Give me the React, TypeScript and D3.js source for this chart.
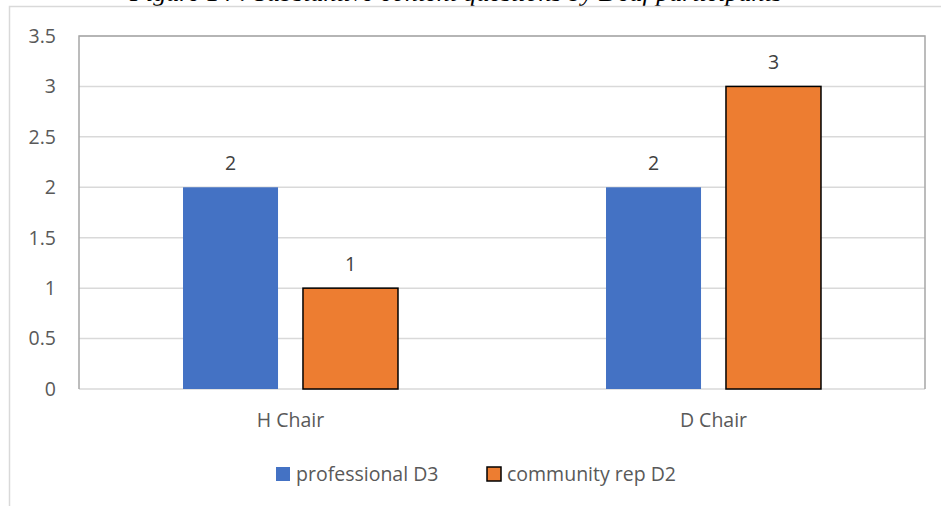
import React from 'react';
import * as d3 from 'd3';

const categories = ['H Chair', 'D Chair'];
const seriesNames = ['professional D3', 'community rep D2'];
const professional = [2, 2];
const community = [1, 3];
const yTicks = [0, 0.5, 1, 1.5, 2, 2.5, 3, 3.5];
const title = 'Figure 14 : Substantive content questions by Deaf participants';

const colors = ['#4472c4', '#ed7d31'];
const font = '"Open Sans", "Noto Sans", sans-serif';
const fs = 19.5;

const App = () => {
  const width = 941;
  const height = 506;
  const plot = { left: 79, right: 925, top: 36, bottom: 389 };

  const x0 = d3.scaleBand().domain(categories).range([plot.left, plot.right]);
  const x1 = d3
    .scaleBand()
    .domain(seriesNames)
    .range([0, x0.bandwidth()])
    .paddingInner(0.208)
    .paddingOuter(0.867);
  const y = d3.scaleLinear().domain([0, 3.5]).range([plot.bottom, plot.top]);

  const values = [professional, community];

  return (
    <svg
      width={width}
      height={height}
      style={{ position: 'absolute', left: 0, top: 0, background: '#fff' }}
    >
      {/* figure caption, cut off at the top as in the source */}
      <text
        x={456}
        y={1}
        textAnchor="middle"
        fontFamily='"Liberation Serif", "Times New Roman", serif'
        fontStyle="italic"
        fontSize={26}
        fill="#000"
      >
        {title}
      </text>

      {/* chart area border */}
      <path d={`M9.5,${height} V6.5 H${width}`} fill="none" stroke="#d9d9d9" strokeWidth={1.5} />

      {/* gridlines */}
      {yTicks.map((t) => (
        <line
          key={t}
          x1={plot.left}
          x2={plot.right}
          y1={y(t)}
          y2={y(t)}
          stroke="#d9d9d9"
          strokeWidth={1.5}
        />
      ))}

      {/* plot area border */}
      <path
        d={`M${plot.left},${plot.bottom} V${plot.top} H${plot.right} V${plot.bottom}`}
        fill="none"
        stroke="#a6a6a6"
        strokeWidth={1.5}
      />

      {/* y tick labels */}
      {yTicks.map((t) => (
        <text
          key={t}
          x={56}
          y={y(t)}
          dy="0.35em"
          textAnchor="end"
          fontFamily={font}
          fontSize={fs}
          fill="#595959"
        >
          {t}
        </text>
      ))}

      {/* bars */}
      {categories.map((c, ci) => (
        <g key={c} transform={`translate(${x0(c)},0)`}>
          {seriesNames.map((s, si) => {
            const v = values[si][ci];
            const bx = x1(s)!;
            return (
              <g key={s}>
                <rect
                  x={bx}
                  y={y(v)}
                  width={x1.bandwidth()}
                  height={y(0) - y(v)}
                  fill={colors[si]}
                  stroke={si === 1 ? '#000' : 'none'}
                  strokeWidth={1.5}
                />
                <text
                  x={bx + x1.bandwidth() / 2}
                  y={y(v) - 17}
                  textAnchor="middle"
                  fontFamily={font}
                  fontSize={fs}
                  fill="#404040"
                >
                  {v}
                </text>
              </g>
            );
          })}
        </g>
      ))}

      {/* x labels */}
      {categories.map((c) => (
        <text
          key={c}
          x={x0(c)! + x0.bandwidth() / 2}
          y={427}
          textAnchor="middle"
          fontFamily={font}
          fontSize={fs}
          fill="#595959"
        >
          {c}
        </text>
      ))}

      {/* legend */}
      {seriesNames.map((s, si) => {
        const lx = si === 0 ? 276 : 487;
        return (
          <g key={s} transform={`translate(${lx},467)`}>
            <rect
              width={14}
              height={14}
              fill={colors[si]}
              stroke={si === 1 ? '#000' : 'none'}
              strokeWidth={1.5}
            />
            <text x={20} y={13.5} fontFamily={font} fontSize={fs} fill="#595959">
              {s}
            </text>
          </g>
        );
      })}
    </svg>
  );
};

export default App;
